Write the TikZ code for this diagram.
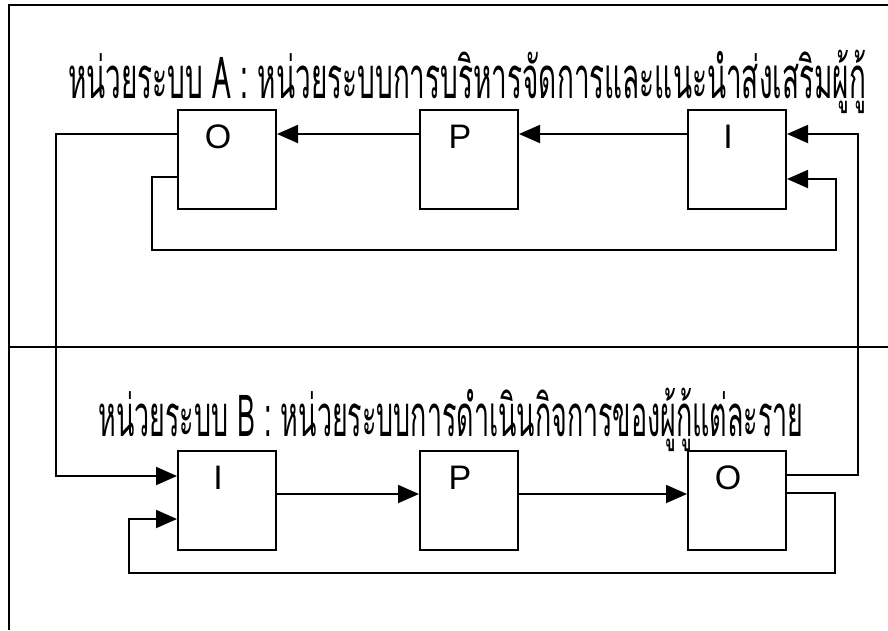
\documentclass[tikz,border=0pt]{standalone}
\usepackage{graphicx}
\usepackage{fontspec}
\setmainfont{Liberation Sans}
\newfontfamily\thaifont[Script=Thai]{Loma}
\usepackage{tikz}
\usetikzlibrary{arrows.meta, positioning}
\tikzstyle{block} = [rectangle, draw, line width=2pt, minimum width=98pt, minimum height=99pt, inner sep=0pt]
\tikzstyle{letter} = [font=\fontsize{34pt}{36pt}\selectfont, xshift=-9pt, yshift=23pt]
\tikzstyle{title} = [inner sep=0pt, font=\thaifont\fontsize{58pt}{60pt}\selectfont]
\tikzstyle{frame} = [line width=1.8pt]
\tikzstyle{arrow} = [-{Triangle[length=21pt,width=18pt]}, line width=1.9pt]

\begin{document}
\begin{tikzpicture}[x=1pt, y=1pt]
\useasboundingbox (0,0) rectangle (888,-630);

% Frame and divider
\draw[frame] (888,-5) -- (9,-5) -- (9,-630);
\draw[frame] (9,-347) -- (888,-347);

% Unit A: right to left
\node[title] (titleA) at (467,-82) {\resizebox{798pt}{\height}{หน่วยระบบ A : หน่วยระบบการบริหารจัดการและแนะนำส่งเสริมผู้กู้}};
\node[block, label={[letter]center:O}] (outA) at (227,-159.5) {};
\node[block, label={[letter]center:P}, right=142pt of outA] (procA) {};
\node[block, label={[letter]center:I}, right=168pt of procA] (inA) {};

% Unit B: left to right
\node[title] (titleB) at (451,-420) {\resizebox{705pt}{\height}{หน่วยระบบ B : หน่วยระบบการดำเนินกิจการของผู้กู้แต่ละราย}};
\node[block, label={[letter]center:I}, below=240pt of outA] (inB) {};
\node[block, label={[letter]center:P}, right=142pt of inB] (procB) {};
\node[block, label={[letter]center:O}, right=168pt of procB] (outB) {};

% Flow arrows in unit A
\draw[arrow] ([yshift=-25pt]inA.north west) -- ([yshift=-25pt]procA.north east);
\draw[arrow] ([yshift=-25pt]procA.north west) -- ([yshift=-25pt]outA.north east);

% Flow arrows in unit B
\draw[arrow] ([yshift=-44pt]inB.north east) -- ([yshift=-44pt]procB.north west);
\draw[arrow] ([yshift=-44pt]procB.north east) -- ([yshift=-44pt]outB.north west);

% Output of one unit is input of the other
\draw[arrow] ([yshift=-25pt]outA.north west) -- ++(-121pt,0) |- ([yshift=-26pt]inB.north west);
\draw[arrow] ([yshift=-25pt]outB.north east) -- ++(71pt,0) |- ([yshift=-25pt]inA.north east);

% Feedback loops
\draw[arrow] ([yshift=-68pt]outA.north west) -- ++(-25pt,0) |- ([xshift=49pt,yshift=-40pt]inA.south east) |- ([yshift=-70pt]inA.north east);
\draw[arrow] ([yshift=-43pt]outB.north east) -- ++(48pt,0) |- ([xshift=-48pt,yshift=-22pt]inB.south west) |- ([yshift=-69pt]inB.north west);

\end{tikzpicture}
\end{document}
